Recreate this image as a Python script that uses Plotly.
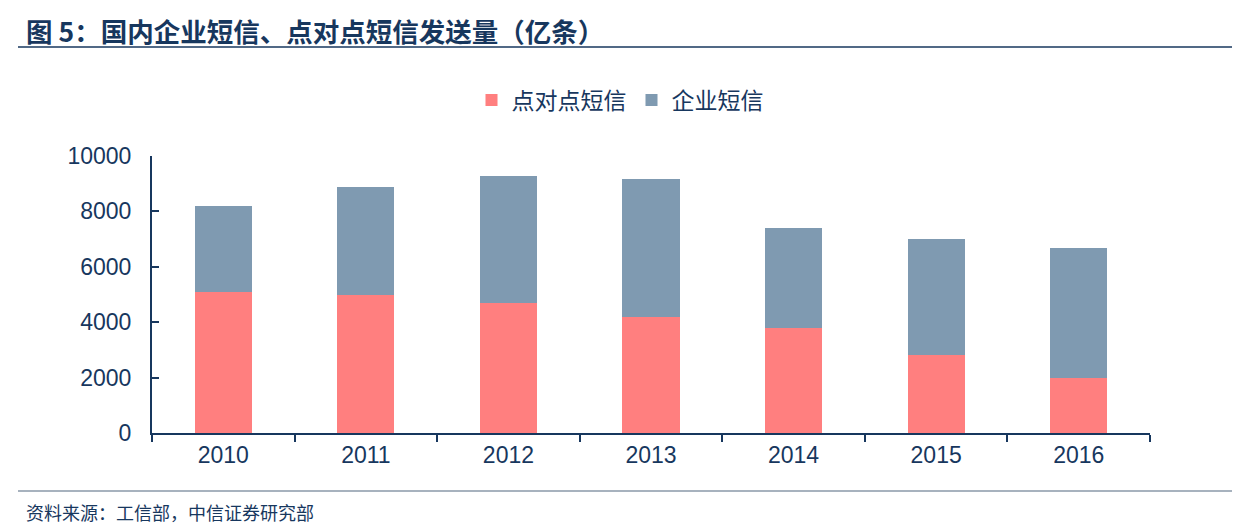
import plotly.graph_objects as go

years = ["2010", "2011", "2012", "2013", "2014", "2015", "2016"]
p2p = [5100, 5000, 4700, 4200, 3800, 2800, 2000]
enterprise = [3100, 3870, 4570, 4980, 3590, 4200, 4670]
y_ticks = [0, 2000, 4000, 6000, 8000, 10000]

NAVY = "#17375E"
RED = "#FF7F7F"
BLUE = "#7F9AB1"
CJK = "Noto Sans CJK SC"
LAT = "Liberation Sans, Arial, Noto Sans CJK SC"

OFF = 8  # page body margin
W, H = 1240 - OFF, 530 - OFF
L, R, T, B = 152 - OFF, 90, 156 - OFF, 97
pw, ph = W - L - R, H - T - B


def px_x(x):
    return (x - OFF - L) / pw


def px_y(y):
    return (H - B - (y - OFF)) / ph


fig = go.Figure()
fig.add_trace(go.Bar(x=years, y=p2p, name="点对点短信", marker=dict(color=RED, line=dict(width=0))))
fig.add_trace(go.Bar(x=years, y=enterprise, name="企业短信", marker=dict(color=BLUE, line=dict(width=0))))

fig.update_layout(
    width=W, height=H,
    margin=dict(l=L, r=R, t=T, b=B),
    barmode="stack",
    bargap=0.6,
    plot_bgcolor="white",
    paper_bgcolor="white",
    font=dict(family=LAT, color=NAVY, size=23),
    legend=dict(
        orientation="h", x=px_x(620), xanchor="center", y=px_y(100), yanchor="middle",
        traceorder="normal", font=dict(family=CJK, size=23, color=NAVY),
        itemwidth=30,
    ),
    xaxis=dict(
        showline=True, linecolor=NAVY, linewidth=2,
        ticks="outside", tickson="boundaries", ticklen=7, tickwidth=2, tickcolor=NAVY,
        tickfont=dict(family=LAT, size=23, color=NAVY),
        showgrid=False,
    ),
    yaxis=dict(
        range=[0, 10000], tickvals=y_ticks, tickformat="d",
        showline=True, linecolor=NAVY, linewidth=2,
        ticks="inside", ticklen=7, tickwidth=2, tickcolor=NAVY,
        tickfont=dict(family=LAT, size=23, color=NAVY),
        ticklabelstandoff=14,
        showgrid=False, zeroline=False,
    ),
    shapes=[
        dict(type="line", xref="paper", yref="paper", x0=px_x(18), x1=px_x(1240),
             y0=px_y(47), y1=px_y(47), line=dict(color=NAVY, width=1.5)),
        dict(type="line", xref="paper", yref="paper", x0=px_x(18), x1=px_x(1240),
             y0=px_y(491), y1=px_y(491), line=dict(color="#8A98A8", width=1.5)),
    ],
    annotations=[
        dict(text="<b>图 5：国内企业短信、点对点短信发送量（亿条）</b>", xref="paper", yref="paper",
             x=px_x(24), y=px_y(30), xanchor="left", yanchor="middle", showarrow=False,
             font=dict(family=CJK, size=26.5, color=NAVY)),
        dict(text="资料来源：工信部，中信证券研究部", xref="paper", yref="paper",
             x=px_x(24), y=px_y(512), xanchor="left", yanchor="middle", showarrow=False,
             font=dict(family=CJK, size=18, color=NAVY)),
    ],
)

fig.write_html("out.html")
